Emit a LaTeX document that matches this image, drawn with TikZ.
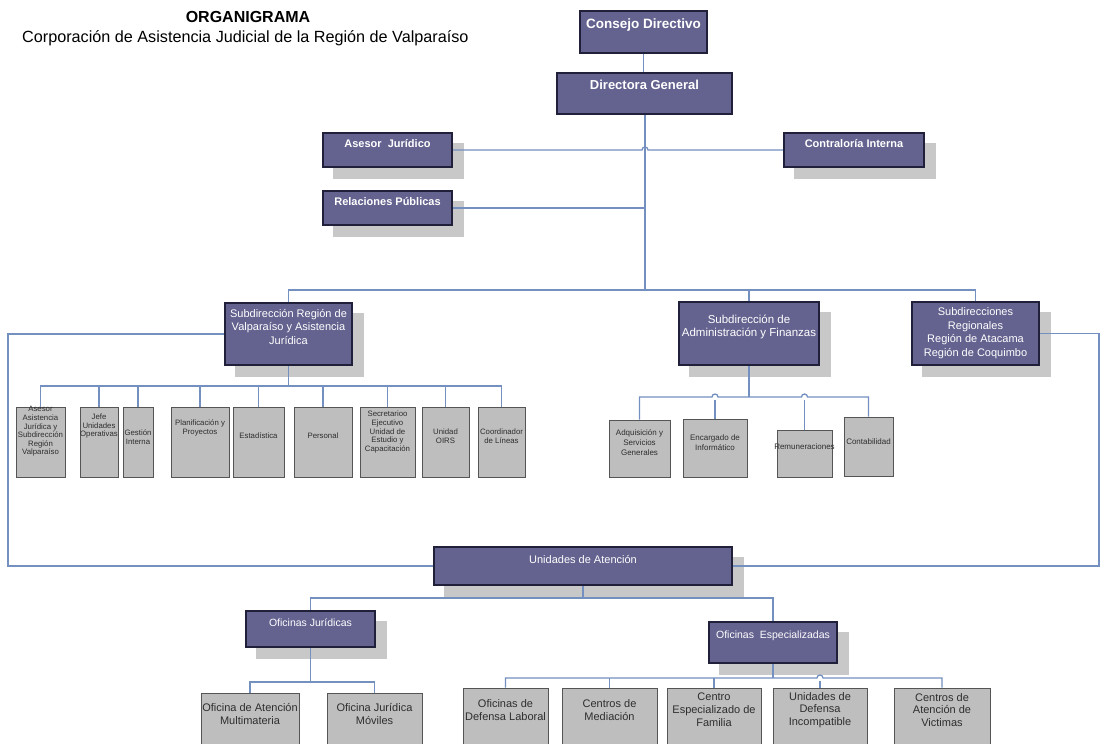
\documentclass[tikz,border=0pt]{standalone}
\usepackage{fontspec}
\setmainfont{Liberation Sans}
\usetikzlibrary{fit}
\pgfdeclarelayer{bgl}
\pgfdeclarelayer{shadowl}
\pgfdeclarelayer{connl}
\pgfsetlayers{bgl,shadowl,connl,main}
\definecolor{pfill}{HTML}{64628F}
\definecolor{pborder}{HTML}{20203A}
\definecolor{gfill}{HTML}{BEBEBE}
\definecolor{gborder}{HTML}{555555}
\definecolor{shadc}{HTML}{C8C8C8}
\definecolor{lc}{HTML}{7390C0}
\definecolor{gtext}{HTML}{2E2E2E}
\newcommand{\myfs}[2]{\fontsize{#1}{#2}\selectfont}
\begin{document}
\begin{tikzpicture}[x=1pt,y=-1pt,
  pbox/.style={draw=pborder, line width=2.4pt, fill=pfill, inner sep=0pt},
  gbox/.style={draw=gborder, line width=1pt, fill=gfill, inner sep=0pt},
  conn/.style={draw=lc, line width=1.3pt},
  ptxt/.style={text=white, align=center, inner sep=0pt},
  ptitle/.style={ptxt, font=\bfseries\myfs{13.5}{16}},
  pbold/.style={ptxt, font=\bfseries\myfs{11}{13}},
  preg/.style={ptxt, font=\myfs{11}{14}},
  gsmall/.style={text=gtext, align=center, inner sep=0pt, font=\myfs{7.8}{8.6}},
  gmid/.style={text=gtext, align=center, inner sep=0pt, font=\myfs{8}{10}},
  gbig/.style={text=gtext, align=center, inner sep=0pt, font=\myfs{11}{12.8}}
]
\useasboundingbox (0,0) rectangle (1101,744);
\begin{pgfonlayer}{bgl}
\fill[white] (0,0) rectangle (1101,744);
\end{pgfonlayer}
\clip (0,0) rectangle (1101,744);

% titles
\node[anchor=base, font=\bfseries\myfs{16}{19}] (t1) at (248,22) {ORGANIGRAMA};
\node[anchor=base west, inner sep=0pt, font=\myfs{16.2}{19}] (t2) at (22,42) {Corporación de Asistencia Judicial de la Región de Valparaíso};

% purple boxes
\node[pbox, fit={(580,11)(707,53)}] (cons) {};
\node[pbox, fit={(557,73)(732,114)}] (dir) {};
\node[pbox, fit={(323,133)(452,167)}] (ases) {};
\node[pbox, fit={(784,133)(924,167)}] (contr) {};
\node[pbox, fit={(323,191)(452,225)}] (rel) {};
\node[pbox, fit={(225,303)(352,365)}] (subreg) {};
\node[pbox, fit={(679,302)(819,365)}] (adm) {};
\node[pbox, fit={(912,302)(1039,365)}] (regio) {};
\node[pbox, fit={(434,547)(732,585)}] (unid) {};
\node[pbox, fit={(246,611)(375,647)}] (ofj) {};
\node[pbox, fit={(709,622)(837,663)}] (ofe) {};

% shadows
\begin{pgfonlayer}{shadowl}
\foreach \n in {ases,contr,rel,subreg,adm,regio,unid,ofj,ofe}{
  \fill[shadc] ([shift={(11,11)}]\n.north west) rectangle ([shift={(11,11)}]\n.south east);
}
\end{pgfonlayer}

% purple texts
\node[ptitle] (consT) at (643.5,25) {Consejo Directivo};
\node[ptitle, font=\bfseries\myfs{13}{16}] (dirT) at (644.5,85) {Directora General};
\node[pbold] (asesT) at (387.5,144) {Asesor\ \ Jurídico};
\node[pbold] (contrT) at (854,144) {Contraloría Interna};
\node[pbold] (relT) at (387.5,202) {Relaciones Públicas};
\node[preg] (subregT) at (288.5,327) {Subdirección Región de\\Valparaíso y Asistencia\\Jurídica};
\node[preg, font=\myfs{11.5}{12.5}] (admT) at (749,327) {Subdirección de\\Administración y Finanzas};
\node[preg, font=\myfs{11}{13.5}] (regioT) at (975.5,333) {Subdirecciones\\Regionales\\Región de Atacama\\Región de Coquimbo};
\node[preg] (unidT) at (583,559) {Unidades de Atención};
\node[preg, font=\myfs{10.5}{12}] (ofjT) at (310.5,623) {Oficinas Jurídicas};
\node[preg, font=\myfs{10.5}{12}] (ofeT) at (773,636) {Oficinas\ \ Especializadas};

% left gray children
\node[gbox, fit={(16,407)(65,477)}] (c1) {};
\node[gbox, fit={(80,407)(118,477)}] (c2) {};
\node[gbox, fit={(123,407)(153,477)}] (c3) {};
\node[gbox, fit={(171,407)(229,477)}] (c4) {};
\node[gbox, fit={(233,407)(284,477)}] (c5) {};
\node[gbox, fit={(294,407)(352,477)}] (c6) {};
\node[gbox, fit={(360,407)(415,477)}] (c7) {};
\node[gbox, fit={(422,407)(469,477)}] (c8) {};
\node[gbox, fit={(478,407)(525,477)}] (c9) {};
\node[gsmall] (c1T) at (40.5,431.5) {Asesor\\Asistencia\\Jurídica y\\Subdirección\\Región\\Valparaíso};
\node[gsmall] (c2T) at (99,426) {Jefe\\Unidades\\Operativas};
\node[gsmall] (c3T) at (138,437) {Gestión\\Interna};
\node[gsmall] (c4T) at (200,428) {Planificación y\\Proyectos};
\node[gsmall] (c5T) at (258.5,436) {Estadística};
\node[gsmall] (c6T) at (323,436) {Personal};
\node[gsmall] (c7T) at (387.5,432) {Secretarioo\\Ejecutivo\\Unidad de\\Estudio y\\Capacitación};
\node[gsmall] (c8T) at (445.5,436) {Unidad\\OIRS};
\node[gsmall] (c9T) at (501.5,436) {Coordinador\\de Líneas};

% right gray children
\node[gbox, fit={(609,420)(670,477)}] (a1) {};
\node[gbox, fit={(683,419)(747,477)}] (a2) {};
\node[gbox, fit={(777,430)(832,477)}] (a3) {};
\node[gbox, fit={(844,417)(893,476)}] (a4) {};
\node[gmid] (a1T) at (639.5,443) {Adquisición y\\Servicios\\Generales};
\node[gmid] (a2T) at (715,443) {Encargado de\\Informático};
\node[gmid] (a3T) at (804.5,447) {Remuneraciones};
\node[gmid] (a4T) at (868.5,442) {Contabilidad};

% bottom gray children
\node[gbox, fit={(201,693)(299,760)}] (j1) {};
\node[gbox, fit={(327,693)(422,760)}] (j2) {};
\node[gbox, fit={(463,688)(548,760)}] (e1) {};
\node[gbox, fit={(562,688)(657,760)}] (e2) {};
\node[gbox, fit={(667,688)(761,760)}] (e3) {};
\node[gbox, fit={(773,688)(867,760)}] (e4) {};
\node[gbox, fit={(894,688)(990,760)}] (e5) {};
\node[gbig] (j1T) at (250,714) {Oficina de Atención\\Multimateria};
\node[gbig] (j2T) at (374.5,714) {Oficina Jurídica\\Móviles};
\node[gbig] (e1T) at (505.5,710) {Oficinas de\\Defensa Laboral};
\node[gbig] (e2T) at (609.5,710) {Centros de\\Mediación};
\node[gbig] (e3T) at (714,710) {Centro\\Especializado de\\Familia};
\node[gbig] (e4T) at (820,710) {Unidades de\\Defensa\\Incompatible};
\node[gbig] (e5T) at (942,710) {Centros de\\Atención de\\Victimas};

% connectors
\coordinate (jTop) at (645,290);
\coordinate (lbus) at (0,386);
\coordinate (abus) at (0,397);
\coordinate (mbus) at (0,598);
\coordinate (jbus) at (0,682);
\coordinate (ebus) at (0,678);
\coordinate (lft) at (8,566);
\coordinate (rgt) at (1099,566);
\begin{pgfonlayer}{connl}
\draw[conn] (cons.south) -- (cons.south |- dir.north);
\draw[conn] (dir.south -| jTop) -- (jTop);
\draw[conn] (ases.east) -- (642,150) arc[start angle=180, end angle=0, radius=3pt] -- (contr.west);
\draw[conn] (rel.east) -- (rel.east -| jTop);
\draw[conn] (subreg.north) -- (subreg.north |- jTop) -| (regio.north);
\draw[conn] (adm.north) -- (adm.north |- jTop);
\draw[conn] (subreg.west) -| (lft) -- (unid.west);
\draw[conn] (regio.east) -| (rgt) -- (unid.east);
% left children
\draw[conn] (subreg.south) -- (subreg.south |- lbus);
\draw[conn] (c1.north) -- (c1.north |- lbus) -- (c9.north |- lbus) -- (c9.north);
\foreach \n in {c2,c3,c4,c5,c6,c7,c8}{\draw[conn] (\n.north) -- (\n.north |- lbus);}
% adm children
\draw[conn] (adm.south) -- (adm.south |- abus);
\draw[conn] (a1.north) -- (a1.north |- abus) -- (712,397) arc[start angle=180, end angle=0, radius=3pt] -- (801.5,397) arc[start angle=180, end angle=0, radius=3pt] -- (a4.north |- abus) -- (a4.north);
\draw[conn] (a2.north) -- ([yshift=-3pt]a2.north |- abus);
\draw[conn] (a3.north) -- ([yshift=-3pt]a3.north |- abus);
% unidades
\draw[conn] (unid.south) -- (unid.south |- mbus);
\draw[conn] (ofj.north) -- (ofj.north |- mbus) -- (ofe.north |- mbus) -- (ofe.north);
\draw[conn] (ofj.south) -- (ofj.south |- jbus);
\draw[conn] (j1.north) -- (j1.north |- jbus) -- (j2.north |- jbus) -- (j2.north);
\draw[conn] (ofe.south) -- (ofe.south |- ebus);
\draw[conn] (e1.north) -- (e1.north |- ebus) -- (817,678) arc[start angle=180, end angle=0, radius=3pt] -- (e5.north |- ebus) -- (e5.north);
\draw[conn] (e2.north) -- (e2.north |- ebus);
\draw[conn] (e3.north) -- (e3.north |- ebus);
\draw[conn] (e4.north) -- ([yshift=-3pt]e4.north |- ebus);
\end{pgfonlayer}
\end{tikzpicture}
\end{document}
